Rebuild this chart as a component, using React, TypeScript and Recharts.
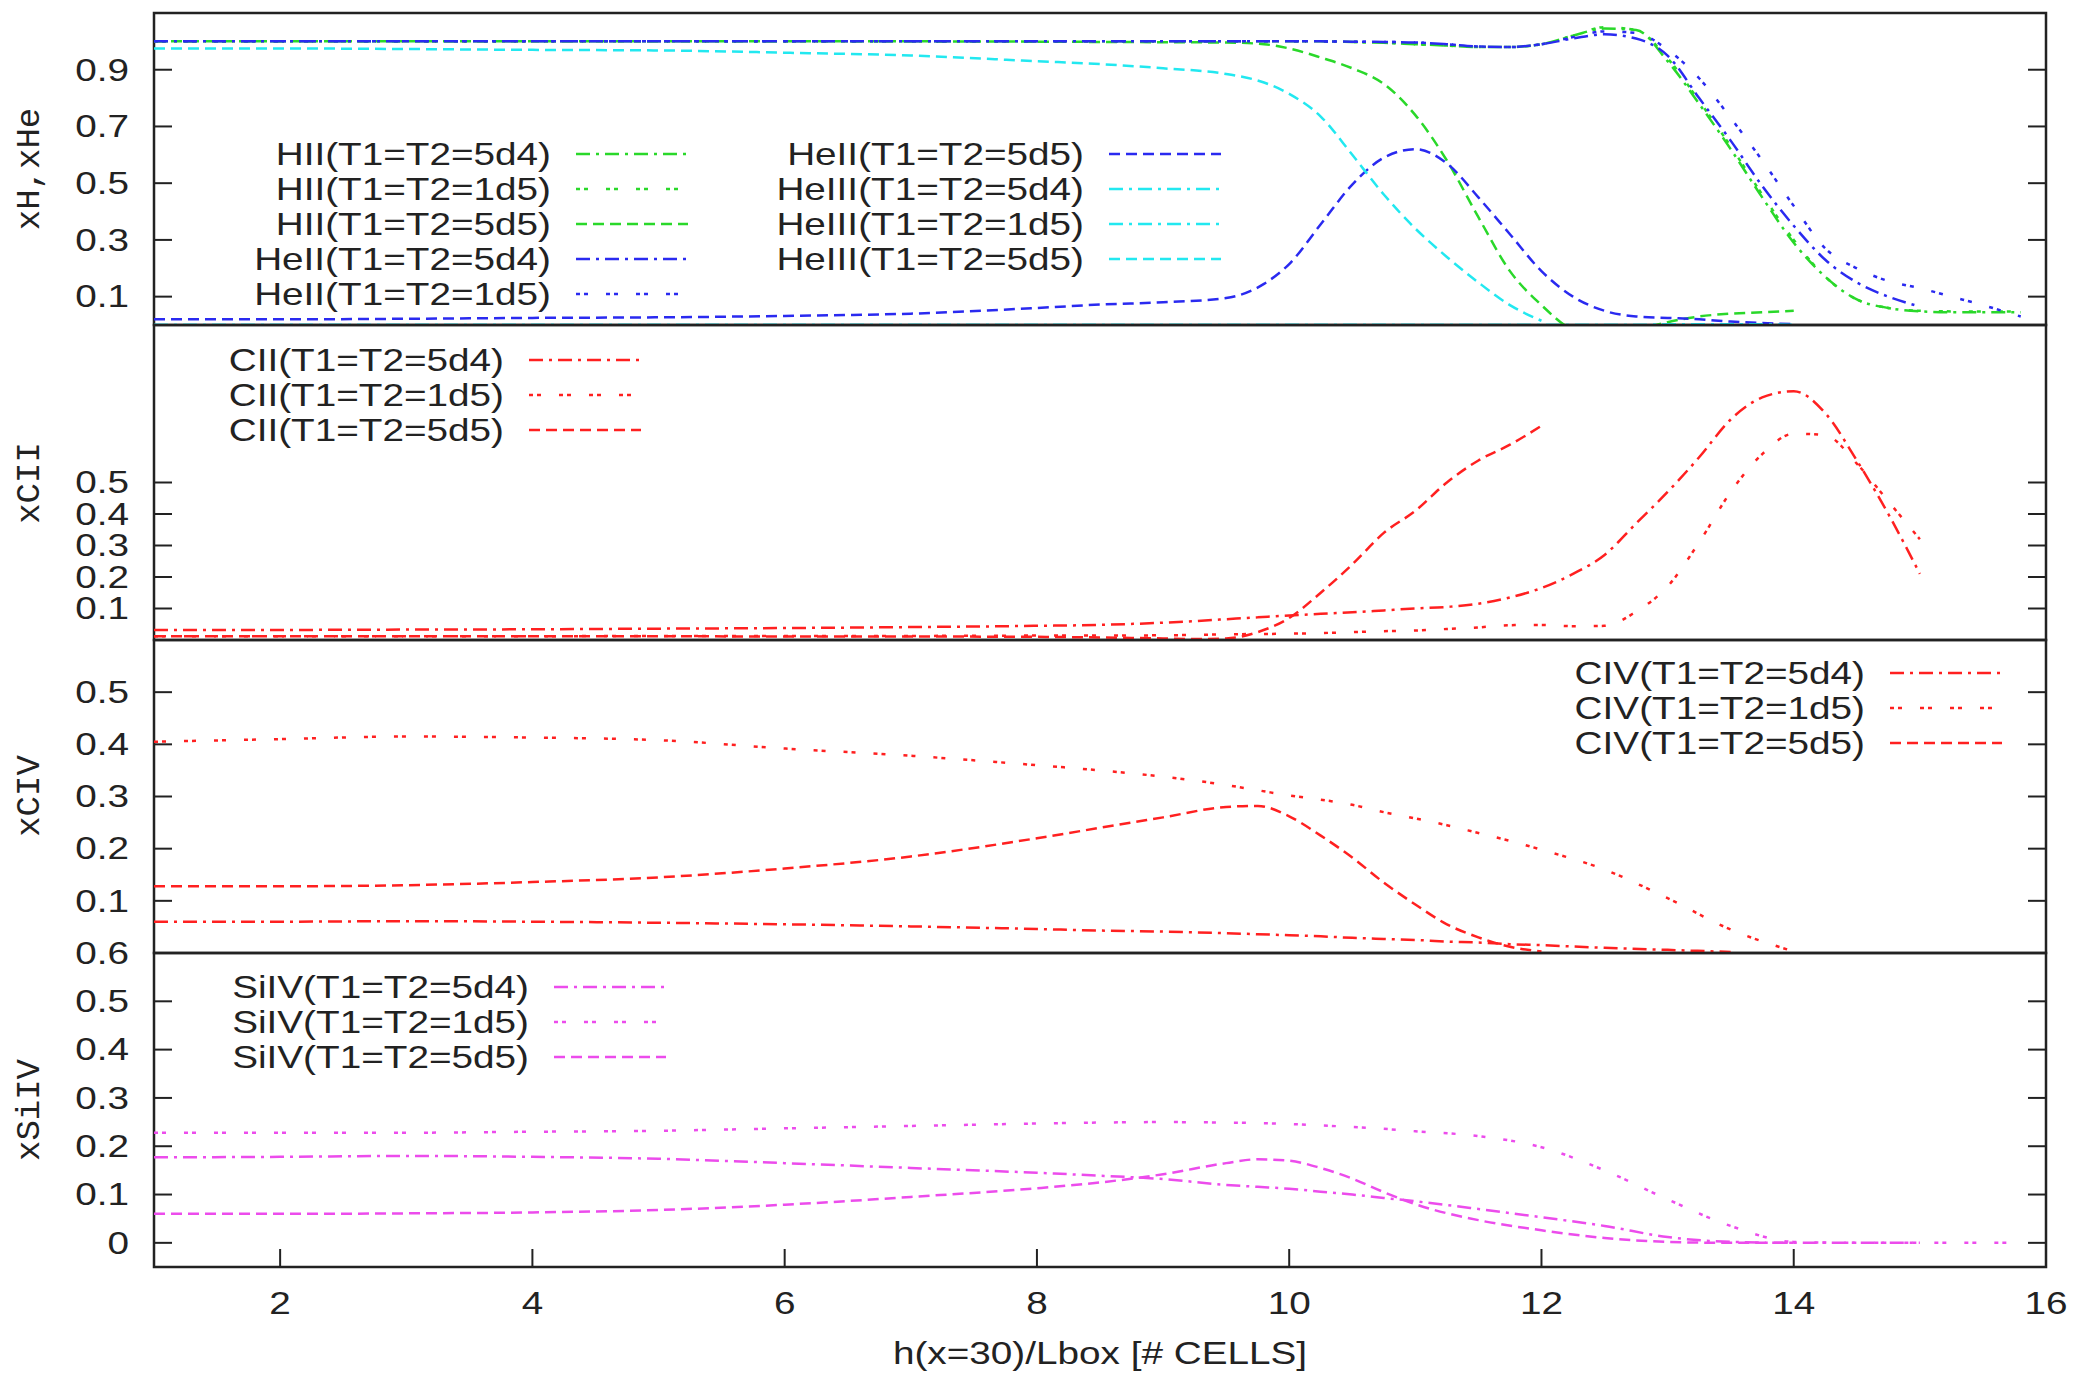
import React from "react";
import { LineChart, Line, XAxis, YAxis, ReferenceArea } from "recharts";

// ---- panel 1: hydrogen and helium ionisation fractions
const xHHe = [1, 2, 3, 4, 5, 6, 7, 8, 8.5, 9, 9.5, 9.8, 10, 10.25, 10.5, 10.75, 11, 11.25, 11.5, 11.75, 12, 12.25, 12.5, 12.75, 13, 13.25, 13.5, 13.75, 14, 14.25, 14.5, 14.75, 15, 15.25, 15.5, 15.8];
const hii5d4 = [1, 1, 1, 1, 1, 1, 1, 1, 1, 1, 1, 1, 1, 1, 0.998, 0.995, 0.99, 0.985, 0.98, 0.98, 0.99, 1.02, 1.045, 1.04, 0.93, 0.78, 0.62, 0.45, 0.29, 0.17, 0.09, 0.06, 0.048, 0.045, 0.045, 0.045];
const hii1d5 = [1, 1, 1, 1, 1, 1, 1, 1, 1, 1, 1, 1, 1, 1, 0.998, 0.995, 0.99, 0.985, 0.98, 0.98, 0.99, 1.02, 1.05, 1.04, 0.94, 0.79, 0.63, 0.46, 0.3, 0.17, 0.09, 0.06, 0.05, 0.048, 0.048, 0.048];
const hii5d5 = [1, 1, 1, 1, 1, 1, 1, 0.999, 0.998, 0.997, 0.996, 0.99, 0.975, 0.943, 0.905, 0.85, 0.74, 0.58, 0.38, 0.19, 0.07, -0.02, -0.05, -0.02, 0.01, 0.03, 0.04, 0.045, 0.05, null, null, null, null, null, null, null];
const heii5d4 = [1, 1, 1, 1, 1, 1, 1, 1, 1, 1, 1, 1, 1, 1, 0.999, 0.998, 0.996, 0.99, 0.982, 0.98, 0.99, 1.01, 1.025, 1.01, 0.95, 0.8, 0.65, 0.49, 0.35, 0.23, 0.15, 0.1, 0.065, null, null, null];
const heii1d5 = [1, 1, 1, 1, 1, 1, 1, 1, 1, 1, 1, 1, 1, 1, 0.999, 0.998, 0.996, 0.99, 0.982, 0.98, 0.99, 1.015, 1.035, 1.03, 0.97, 0.87, 0.73, 0.58, 0.42, 0.27, 0.2, 0.155, 0.13, 0.1, 0.07, 0.03];
const heii5d5 = [0.02, 0.02, 0.022, 0.025, 0.027, 0.032, 0.04, 0.06, 0.072, 0.08, 0.095, 0.145, 0.215, 0.355, 0.495, 0.59, 0.62, 0.57, 0.45, 0.32, 0.19, 0.1, 0.05, 0.03, 0.025, 0.02, 0.012, 0.007, 0.003, null, null, null, null, null, null, null];
const heiii5d4 = [0, 0, 0, 0, 0, 0, 0, 0, 0, 0, 0, 0, 0, 0, 0, 0, 0, 0, 0, 0, 0, 0, 0, 0, 0.002, 0.003, 0.003, 0.002, 0, null, null, null, null, null, null, null];
const heiii1d5 = [0, 0, 0, 0, 0, 0, 0, 0, 0, 0, 0, 0, 0, 0, 0, 0, 0, 0, 0, 0, 0, 0, 0, 0, 0.002, 0.003, 0.003, 0.002, 0, null, null, null, null, null, null, null];
const heiii5d5 = [0.975, 0.975, 0.973, 0.97, 0.968, 0.96, 0.95, 0.93, 0.92, 0.905, 0.885, 0.855, 0.815, 0.735, 0.6, 0.46, 0.34, 0.24, 0.15, 0.07, 0.015, null, null, null, null, null, null, null, null, null, null, null, null, null, null, null];

// ---- panel 2: CII
const xCII = [1, 2, 3, 4, 5, 6, 7, 8, 8.5, 9, 9.25, 9.5, 9.75, 10, 10.25, 10.5, 10.75, 11, 11.25, 11.5, 11.75, 12, 12.25, 12.5, 12.75, 13, 13.25, 13.5, 13.75, 14, 14.25, 14.5, 14.75, 15];
const cii5d4 = [0.032, 0.032, 0.033, 0.034, 0.036, 0.038, 0.041, 0.045, 0.048, 0.055, 0.06, 0.066, 0.072, 0.078, 0.083, 0.088, 0.094, 0.1, 0.105, 0.115, 0.135, 0.165, 0.21, 0.27, 0.37, 0.47, 0.58, 0.7, 0.77, 0.79, 0.72, 0.57, 0.4, 0.21];
const cii1d5 = [0.012, 0.012, 0.012, 0.012, 0.013, 0.013, 0.013, 0.014, 0.014, 0.015, 0.016, 0.018, 0.019, 0.02, 0.022, 0.025, 0.028, 0.03, 0.035, 0.04, 0.047, 0.048, 0.044, 0.045, 0.09, 0.17, 0.31, 0.47, 0.59, 0.655, 0.65, 0.56, 0.44, 0.32];
const cii5d5 = [0.012, 0.012, 0.012, 0.012, 0.012, 0.011, 0.011, 0.01, 0.008, 0.005, 0.003, 0.005, 0.025, 0.07, 0.15, 0.24, 0.34, 0.41, 0.5, 0.57, 0.62, 0.68, null, null, null, null, null, null, null, null, null, null, null, null];

// ---- panel 3: CIV
const xCIV = [1, 2, 3, 4, 5, 6, 7, 8, 8.5, 9, 9.5, 9.75, 10, 10.25, 10.5, 10.75, 11, 11.25, 11.5, 11.75, 12, 12.5, 13, 13.5, 14];
const civ5d4 = [0.06, 0.06, 0.061, 0.06, 0.058, 0.055, 0.051, 0.046, 0.043, 0.041, 0.038, 0.036, 0.034, 0.032, 0.029, 0.027, 0.025, 0.022, 0.02, 0.017, 0.015, 0.01, 0.006, 0.002, null];
const civ1d5 = [0.405, 0.41, 0.415, 0.413, 0.408, 0.392, 0.378, 0.36, 0.35, 0.338, 0.322, 0.312, 0.302, 0.294, 0.284, 0.27, 0.258, 0.245, 0.23, 0.215, 0.198, 0.16, 0.105, 0.045, 0.003];
const civ5d5 = [0.128, 0.128, 0.13, 0.136, 0.145, 0.162, 0.185, 0.22, 0.24, 0.26, 0.28, 0.282, 0.262, 0.225, 0.183, 0.135, 0.093, 0.055, 0.03, 0.012, 0.003, null, null, null, null];

// ---- panel 4: SiIV
const xSiIV = [1, 2, 3, 4, 5, 6, 7, 8, 8.5, 9, 9.5, 9.75, 10, 10.25, 10.5, 10.75, 11, 11.5, 12, 12.5, 13, 13.5, 14, 14.5, 15, 15.5, 15.8];
const siiv5d4 = [0.177, 0.178, 0.18, 0.178, 0.174, 0.165, 0.155, 0.145, 0.139, 0.132, 0.12, 0.116, 0.112, 0.106, 0.1, 0.093, 0.086, 0.07, 0.053, 0.035, 0.012, 0.002, 0, 0, 0, null, null];
const siiv1d5 = [0.228, 0.228, 0.228, 0.23, 0.232, 0.237, 0.242, 0.247, 0.249, 0.25, 0.249, 0.248, 0.246, 0.243, 0.24, 0.236, 0.231, 0.221, 0.198, 0.15, 0.09, 0.035, 0.002, 0, 0, 0, 0];
const siiv5d5 = [0.06, 0.06, 0.061, 0.063, 0.068, 0.079, 0.095, 0.113, 0.125, 0.142, 0.165, 0.173, 0.17, 0.155, 0.133, 0.105, 0.08, 0.047, 0.026, 0.01, 0.002, 0, 0, null, null, null, null];

const xTicks = [2, 4, 6, 8, 10, 12, 14, 16];

const GREEN = "#2ad82a";
const BLUE = "#2a2af0";
const CYAN = "#22e8f0";
const RED = "#ff2020";
const MAGENTA = "#ec4cec";
const DASHDOT = "14 6 3 6";
const DOTTED = "4 4 4 18";
const DASHED = "11 6";
const INK = "#222";
const FONT = "'Liberation Sans', Arial, sans-serif";
const MONO = "'Liberation Mono', 'DejaVu Sans Mono', monospace";

const W = 2078;
const PLOT_L = 154;
const PLOT_R = 2046;

type Series = { key: string; name: string; values: (number | null)[]; color: string; dash: string };

const panel1: Series[] = [
  { key: "hii5d4", name: "HII(T1=T2=5d4)", values: hii5d4, color: GREEN, dash: DASHDOT },
  { key: "hii1d5", name: "HII(T1=T2=1d5)", values: hii1d5, color: GREEN, dash: DOTTED },
  { key: "hii5d5", name: "HII(T1=T2=5d5)", values: hii5d5, color: GREEN, dash: DASHED },
  { key: "heii5d4", name: "HeII(T1=T2=5d4)", values: heii5d4, color: BLUE, dash: DASHDOT },
  { key: "heii1d5", name: "HeII(T1=T2=1d5)", values: heii1d5, color: BLUE, dash: DOTTED },
  { key: "heii5d5", name: "HeII(T1=T2=5d5)", values: heii5d5, color: BLUE, dash: DASHED },
  { key: "heiii5d4", name: "HeIII(T1=T2=5d4)", values: heiii5d4, color: CYAN, dash: DASHDOT },
  { key: "heiii1d5", name: "HeIII(T1=T2=1d5)", values: heiii1d5, color: CYAN, dash: DASHDOT },
  { key: "heiii5d5", name: "HeIII(T1=T2=5d5)", values: heiii5d5, color: CYAN, dash: DASHED },
];
const panel2: Series[] = [
  { key: "cii5d4", name: "CII(T1=T2=5d4)", values: cii5d4, color: RED, dash: DASHDOT },
  { key: "cii1d5", name: "CII(T1=T2=1d5)", values: cii1d5, color: RED, dash: DOTTED },
  { key: "cii5d5", name: "CII(T1=T2=5d5)", values: cii5d5, color: RED, dash: DASHED },
];
const panel3: Series[] = [
  { key: "civ5d4", name: "CIV(T1=T2=5d4)", values: civ5d4, color: RED, dash: DASHDOT },
  { key: "civ1d5", name: "CIV(T1=T2=1d5)", values: civ1d5, color: RED, dash: DOTTED },
  { key: "civ5d5", name: "CIV(T1=T2=5d5)", values: civ5d5, color: RED, dash: DASHED },
];
const panel4: Series[] = [
  { key: "siiv5d4", name: "SiIV(T1=T2=5d4)", values: siiv5d4, color: MAGENTA, dash: DASHDOT },
  { key: "siiv1d5", name: "SiIV(T1=T2=1d5)", values: siiv1d5, color: MAGENTA, dash: DOTTED },
  { key: "siiv5d5", name: "SiIV(T1=T2=5d5)", values: siiv5d5, color: MAGENTA, dash: DASHED },
];

// gnuplot's font here is wider than Liberation Sans, so stretch it a bit
function Txt({ x, y, anchor, children }: { x: number; y: number; anchor: "start" | "middle" | "end"; children: React.ReactNode }) {
  return (
    <g transform={`translate(${x} ${y}) scale(1.21 1)`}>
      <text x={0} y={0} textAnchor={anchor} dominantBaseline="central" fontSize={32} fontFamily={FONT} fill={INK}>
        {children}
      </text>
    </g>
  );
}

type PanelProps = {
  plotTop: number;
  plotH: number;
  xs: number[];
  series: Series[];
  domain: [number, number];
  ticks: number[];
  showX?: boolean;
};

function Panel({ plotTop, plotH, xs, series, domain, ticks, showX }: PanelProps) {
  const mt = Math.min(20, plotTop);
  const mb = showX ? 0 : 8;
  const axisH = showX ? 106 : 0;
  const height = mt + plotH + axisH + mb;
  const data = xs.map((x, i) => {
    const row: Record<string, number | null> = { x };
    series.forEach((s) => (row[s.key] = s.values[i]));
    return row;
  });
  const bottom = mt + plotH;

  const leftTick = (p: any) => (
    <g>
      <line x1={PLOT_L} x2={PLOT_L + 18} y1={p.y} y2={p.y} stroke={INK} strokeWidth={2} />
      <Txt x={129} y={p.y} anchor="end">{String(p.payload.value)}</Txt>
    </g>
  );
  const rightTick = (p: any) => (
    <line x1={PLOT_R - 18} x2={PLOT_R} y1={p.y} y2={p.y} stroke={INK} strokeWidth={2} />
  );
  const xTick = (p: any) => (
    <g>
      <line x1={p.x} x2={p.x} y1={bottom} y2={bottom - 18} stroke={INK} strokeWidth={2} />
      <Txt x={p.x} y={bottom + 36} anchor="middle">{String(p.payload.value)}</Txt>
    </g>
  );

  return (
    <div style={{ position: "absolute", left: 0, top: plotTop - mt }}>
      <LineChart
        width={W}
        height={height}
        data={data}
        margin={{ top: mt, right: W - PLOT_R - 1, bottom: mb, left: 0 }}
      >
        <XAxis
          dataKey="x"
          type="number"
          domain={[1, 16]}
          ticks={xTicks}
          allowDataOverflow
          hide={!showX}
          height={axisH}
          axisLine={false}
          tickLine={false}
          tick={xTick}
        />
        <YAxis
          yAxisId="l"
          type="number"
          domain={domain}
          ticks={ticks}
          allowDataOverflow
          width={PLOT_L}
          axisLine={false}
          tickLine={false}
          tick={leftTick}
          interval={0}
        />
        <YAxis
          yAxisId="r"
          orientation="right"
          type="number"
          domain={domain}
          ticks={ticks}
          allowDataOverflow
          width={1}
          axisLine={false}
          tickLine={false}
          tick={rightTick}
          interval={0}
        />
        {series.map((s) => (
          <Line
            key={s.key}
            yAxisId="l"
            dataKey={s.key}
            name={s.name}
            type="monotone"
            stroke={s.color}
            strokeWidth={2.5}
            strokeDasharray={s.dash}
            dot={false}
            activeDot={false}
            connectNulls={false}
            isAnimationActive={false}
          />
        ))}
        <ReferenceArea
          yAxisId="l"
          x1={1}
          x2={16}
          y1={domain[0]}
          y2={domain[1]}
          fill="none"
          stroke={INK}
          strokeWidth={2.5}
          ifOverflow="visible"
        />
      </LineChart>
    </div>
  );
}

type LegendBlock = { items: Series[]; textRight: number; y0: number; step: number };

function LegendRows({ items, textRight, y0, step }: LegendBlock) {
  return (
    <g>
      {items.map((s, i) => {
        const y = y0 + i * step;
        return (
          <g key={s.key}>
            <Txt x={textRight} y={y} anchor="end">{s.name}</Txt>
            <line x1={textRight + 25} x2={textRight + 137} y1={y} y2={y} stroke={s.color} strokeWidth={2.5} strokeDasharray={s.dash} />
          </g>
        );
      })}
    </g>
  );
}

function YTitle({ y, text }: { y: number; text: string }) {
  return (
    <text
      x={30}
      y={y}
      transform={`rotate(-90 30 ${y})`}
      textAnchor="middle"
      dominantBaseline="central"
      fontSize={34}
      fontFamily={MONO}
      fill={INK}
    >
      {text}
    </text>
  );
}

export default function App() {
  return (
    <div style={{ position: "absolute", left: 0, top: 0, width: W, height: 1373, background: "#fff" }}>
      <Panel plotTop={13} plotH={312} xs={xHHe} series={panel1} domain={[0, 1.1]} ticks={[0.1, 0.3, 0.5, 0.7, 0.9]} />
      <Panel plotTop={325} plotH={315} xs={xCII} series={panel2} domain={[0, 1]} ticks={[0.1, 0.2, 0.3, 0.4, 0.5]} />
      <Panel plotTop={640} plotH={313} xs={xCIV} series={panel3} domain={[0, 0.6]} ticks={[0.1, 0.2, 0.3, 0.4, 0.5]} />
      <Panel
        plotTop={953}
        plotH={314}
        xs={xSiIV}
        series={panel4}
        domain={[-0.05, 0.6]}
        ticks={[0, 0.1, 0.2, 0.3, 0.4, 0.5, 0.6]}
        showX
      />
      <svg width={W} height={1373} style={{ position: "absolute", left: 0, top: 0, pointerEvents: "none" }}>
        <LegendRows items={panel1.slice(0, 5)} textRight={551} y0={154} step={35} />
        <LegendRows items={panel1.slice(5)} textRight={1084} y0={154} step={35} />
        <LegendRows items={panel2} textRight={504} y0={360} step={35} />
        <LegendRows items={panel3} textRight={1865} y0={673} step={35} />
        <LegendRows items={panel4} textRight={529} y0={987} step={35} />
        <YTitle y={169} text="xH,xHe" />
        <YTitle y={483} text="xCII" />
        <YTitle y={796} text="xCIV" />
        <YTitle y={1110} text="xSiIV" />
        <Txt x={1100} y={1353} anchor="middle">h(x=30)/Lbox [# CELLS]</Txt>
      </svg>
    </div>
  );
}
